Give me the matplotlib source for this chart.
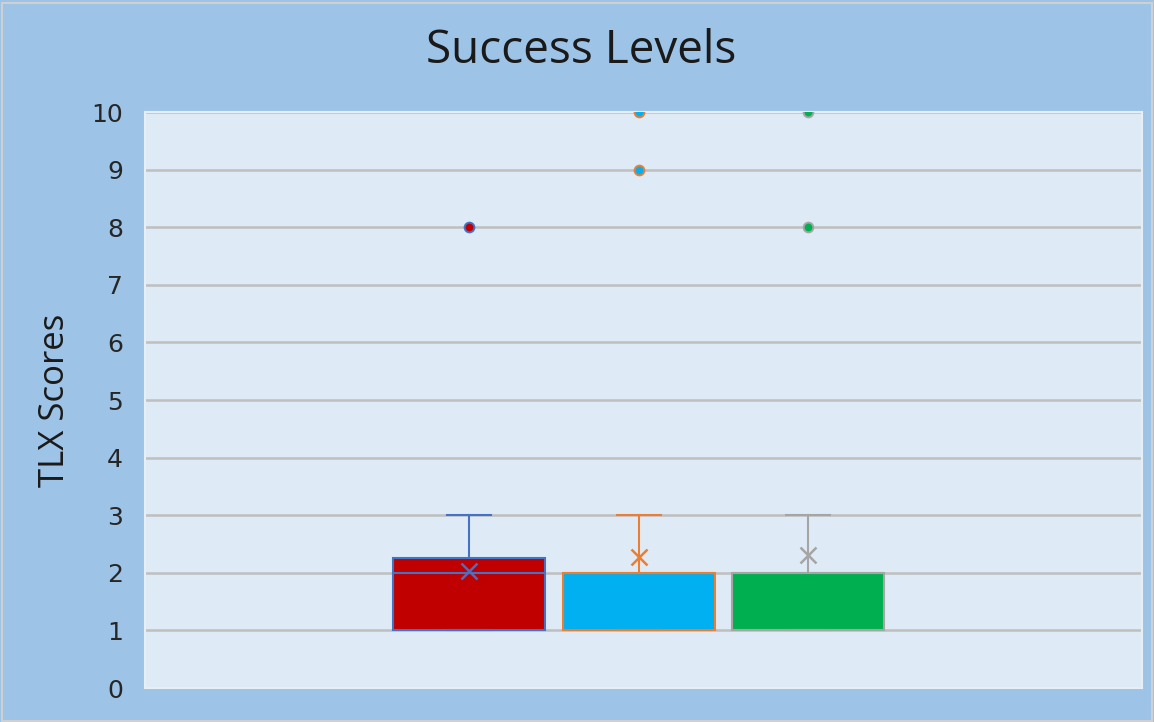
import matplotlib.pyplot as plt
from matplotlib.patches import Rectangle

# summary statistics for the three groups
group_names = ["Group A", "Group B", "Group C"]
q1_vals = [1, 1, 1]
median_vals = [2, 2, 2]
q3_vals = [2.25, 2, 2]
whisker_low = [1, 1, 1]
whisker_high = [3, 3, 3]
mean_vals = [2.03, 2.27, 2.31]
outliers = [[8], [9, 10], [8, 10]]

fills = ["#C00000", "#00B0F0", "#00B050"]
edges = ["#4472C4", "#ED7D31", "#A5A5A5"]
positions = [0.325, 0.4955, 0.665]

fig = plt.figure(figsize=(11.54, 7.22), dpi=100)
fig.patch.set_facecolor("#9DC3E6")
fig.patches.append(Rectangle((0.002, 0.002), 0.996, 0.994, transform=fig.transFigure,
                             fill=False, edgecolor="#D0D0D0", linewidth=1.5))

ax = fig.add_axes([145 / 1154, 1 - 688 / 722, 997 / 1154, 576 / 722])
ax.set_facecolor("#DEEBF7")

stats = []
for i in range(3):
    stats.append(dict(label=group_names[i], q1=q1_vals[i], med=median_vals[i], q3=q3_vals[i],
                      whislo=whisker_low[i], whishi=whisker_high[i], mean=mean_vals[i],
                      fliers=outliers[i]))

for i, st in enumerate(stats):
    ax.bxp([st], positions=[positions[i]], widths=0.1525, patch_artist=True,
           showmeans=True, showfliers=True, capwidths=0.045,
           boxprops=dict(facecolor=fills[i], edgecolor=edges[i], linewidth=1.5),
           medianprops=dict(color=edges[i], linewidth=1.5),
           whiskerprops=dict(color=edges[i], linewidth=1.5),
           capprops=dict(color=edges[i], linewidth=1.5),
           meanprops=dict(marker="x", markeredgecolor=edges[i], markersize=11,
                          markeredgewidth=1.8),
           flierprops=dict(marker="o", markerfacecolor=fills[i], markeredgecolor=edges[i],
                           markersize=7, markeredgewidth=1.4),
           zorder=3)

ax.set_xlim(0, 1)
ax.set_ylim(0, 10)
ax.set_yticks(range(0, 11))
ax.set_xticks([])
ax.yaxis.grid(True, color="#BFBFBF", linewidth=1.8)
ax.set_axisbelow(True)
ax.tick_params(axis="y", length=0, labelsize=18, pad=16, colors="#262626")
for s in ax.spines.values():
    s.set_color("#E8EEF5")
    s.set_linewidth(1.5)

ax.set_ylabel("TLX Scores", fontsize=25, family="Open Sans", color="#1a1a1a", labelpad=14)
fig.text(0.504, 0.93, "Success Levels", ha="center", va="center", fontsize=33,
         family="Open Sans", color="#1a1a1a")

fig.savefig("out.png", dpi=100, facecolor=fig.get_facecolor())
